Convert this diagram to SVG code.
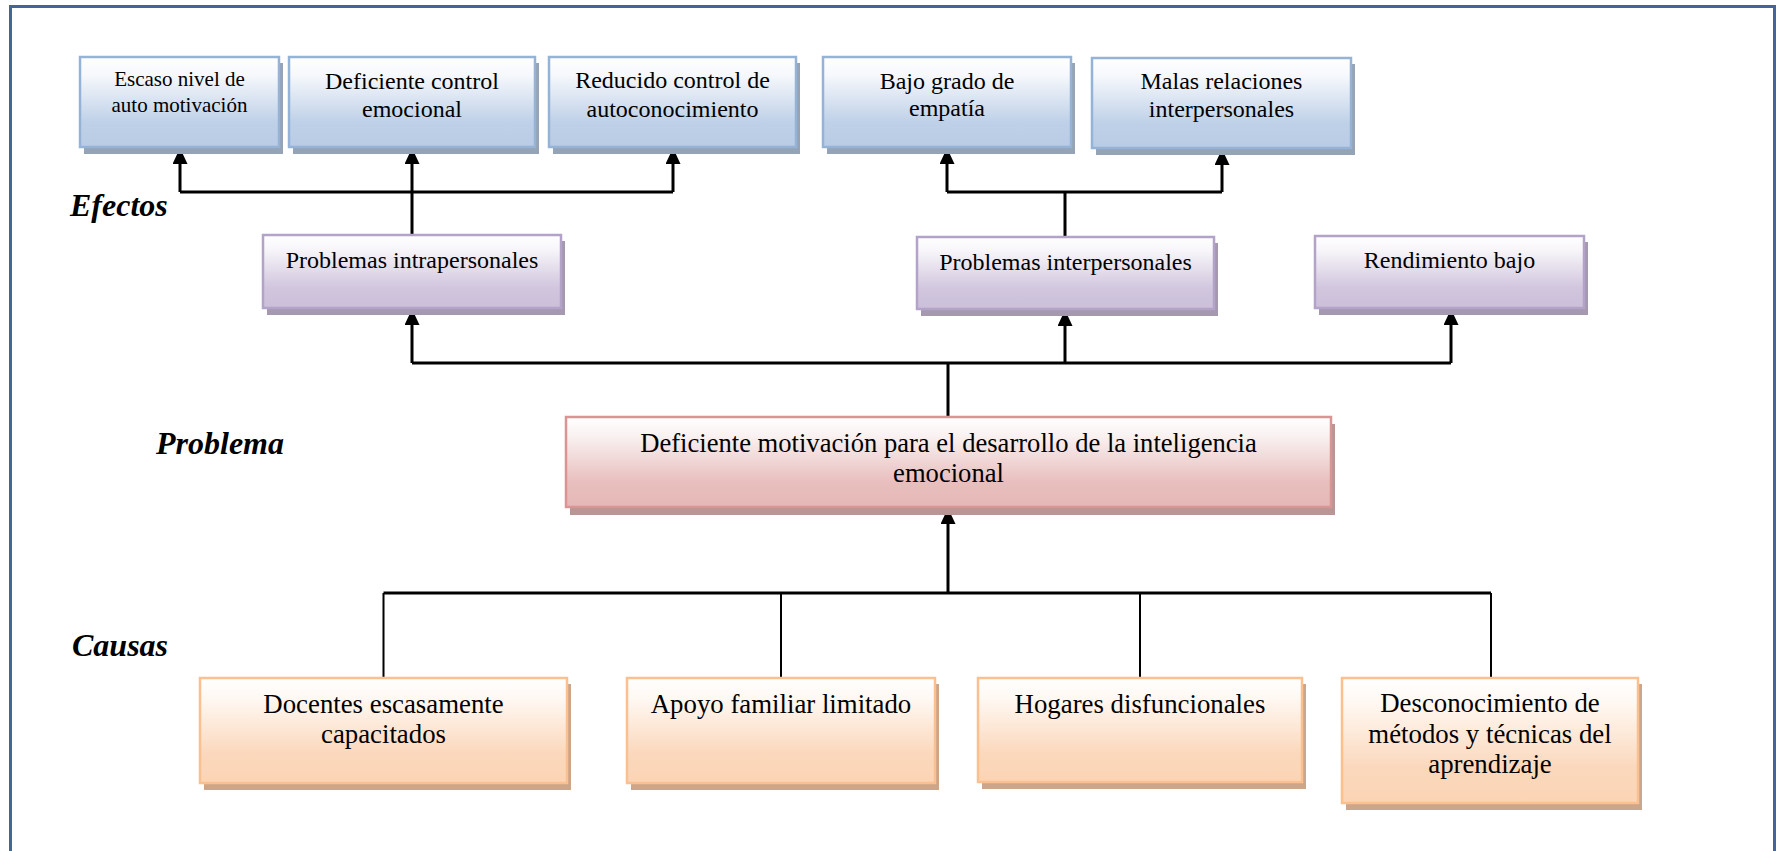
<svg xmlns="http://www.w3.org/2000/svg" width="1778" height="851" viewBox="0 0 1778 851">
<defs>
<linearGradient id="gBlue" x1="0" y1="0" x2="0" y2="1">
<stop offset="0" stop-color="#ffffff"/><stop offset="0.2" stop-color="#f6f8fc"/><stop offset="0.72" stop-color="#bfd1e8"/><stop offset="1" stop-color="#b9cce5"/>
</linearGradient>
<linearGradient id="gPurple" x1="0" y1="0" x2="0" y2="1">
<stop offset="0" stop-color="#ffffff"/><stop offset="0.2" stop-color="#f7f5f9"/><stop offset="0.72" stop-color="#d1c6de"/><stop offset="1" stop-color="#cbbfd9"/>
</linearGradient>
<linearGradient id="gPink" x1="0" y1="0" x2="0" y2="1">
<stop offset="0" stop-color="#ffffff"/><stop offset="0.2" stop-color="#faf2f2"/><stop offset="0.72" stop-color="#e8bfbe"/><stop offset="1" stop-color="#e5b8b7"/>
</linearGradient>
<linearGradient id="gOrange" x1="0" y1="0" x2="0" y2="1">
<stop offset="0" stop-color="#ffffff"/><stop offset="0.2" stop-color="#fff8f2"/><stop offset="0.72" stop-color="#fbd8bc"/><stop offset="1" stop-color="#fbd4b4"/>
</linearGradient>
<marker id="arr" markerUnits="userSpaceOnUse" markerWidth="16" markerHeight="16" refX="16" refY="7.5" orient="auto">
<path d="M0,0 L16,7.5 L0,15 z" fill="#000"/>
</marker>
<style>
text{font-family:'Liberation Serif','DejaVu Serif',serif;fill:#000;text-anchor:middle}
.lbl{font-weight:bold;font-style:italic;font-size:32px;text-anchor:start}
.t24{font-size:24px}
.t21{font-size:21px}
.t265{font-size:26.6px}
.t27{font-size:26.8px}
.blue{fill:url(#gBlue);stroke:#95b3d7;stroke-width:2.5}
.blueS{fill:#94a3b5}
.purple{fill:url(#gPurple);stroke:#b4a3c9;stroke-width:2.5}
.purpleS{fill:#a499ae}
.pink{fill:url(#gPink);stroke:#d99594;stroke-width:2.5}
.pinkS{fill:#b99596}
.orange{fill:url(#gOrange);stroke:#fac08f;stroke-width:2.5}
.orangeS{fill:#cba68b}
.c{fill:none;stroke:#000;stroke-width:3}
.c2{fill:none;stroke:#000;stroke-width:2}
</style>
</defs>
<rect x="0" y="0" width="1778" height="851" fill="#ffffff"/>
<rect id="frame" x="10.5" y="6.5" width="1764" height="870" fill="none" stroke="#3f6899" stroke-width="3"/>

<g font-family="Liberation Serif, DejaVu Serif, serif">
<text class="lbl" x="70" y="216">Efectos</text>
<text class="lbl" x="156" y="454">Problema</text>
<text class="lbl" x="72" y="656">Causas</text>
</g>

<g id="connectors">
<path class="c" d="M412,235 V192 M180,192 H673 M180,192 V148" marker-end="url(#arr)"/>
<path class="c" d="M412,192 V148" marker-end="url(#arr)"/>
<path class="c" d="M673,192 V148" marker-end="url(#arr)"/>
<path class="c" d="M1065,237 V192 M947,192 H1222 M947,192 V148" marker-end="url(#arr)"/>
<path class="c" d="M1222,192 V149" marker-end="url(#arr)"/>
<path class="c" d="M948,417 V363 M412,363 H1451 M412,363 V309" marker-end="url(#arr)"/>
<path class="c" d="M1065,363 V310" marker-end="url(#arr)"/>
<path class="c" d="M1451,363 V309" marker-end="url(#arr)"/>
<path class="c" d="M948,593 V508" marker-end="url(#arr)"/>
<path class="c" d="M383.5,593 H1491"/>
<path class="c2" d="M383.5,593 V678 M781,593 V678 M1140,593 V678 M1491,593 V678"/>
</g>

<g font-family="Liberation Serif, DejaVu Serif, serif">
<g id="e1">
<rect class="blueS" x="84" y="63" width="199" height="91"/>
<rect class="blue" x="80" y="57" width="199" height="90"/>
<text class="t21" x="179.5" y="86">Escaso nivel de</text>
<text class="t21" x="179.5" y="112">auto motivación</text>
</g>
<g id="e2">
<rect class="blueS" x="293" y="63" width="246" height="91"/>
<rect class="blue" x="289" y="57" width="246" height="90"/>
<text class="t24" x="412" y="89">Deficiente control</text>
<text class="t24" x="412" y="117">emocional</text>
</g>
<g id="e3">
<rect class="blueS" x="553" y="63" width="247" height="91"/>
<rect class="blue" x="549" y="57" width="247" height="90"/>
<text class="t24" x="672.5" y="88">Reducido control de</text>
<text class="t24" x="672.5" y="117">autoconocimiento</text>
</g>
<g id="e4">
<rect class="blueS" x="827" y="63" width="248" height="91"/>
<rect class="blue" x="823" y="57" width="248" height="90"/>
<text class="t24" x="947" y="89">Bajo grado de</text>
<text class="t24" x="947" y="116">empatía</text>
</g>
<g id="e5">
<rect class="blueS" x="1096" y="64" width="259" height="91"/>
<rect class="blue" x="1092" y="58" width="259" height="90"/>
<text class="t24" x="1221.5" y="89">Malas relaciones</text>
<text class="t24" x="1221.5" y="117">interpersonales</text>
</g>

<g id="p1">
<rect class="purpleS" x="267" y="241" width="298" height="74"/>
<rect class="purple" x="263" y="235" width="298" height="73"/>
<text class="t24" x="412" y="268">Problemas intrapersonales</text>
</g>
<g id="p2">
<rect class="purpleS" x="921" y="243" width="297" height="73"/>
<rect class="purple" x="917" y="237" width="297" height="72"/>
<text class="t24" x="1065.5" y="270">Problemas interpersonales</text>
</g>
<g id="p3">
<rect class="purpleS" x="1319" y="242" width="269" height="73"/>
<rect class="purple" x="1315" y="236" width="269" height="72"/>
<text class="t24" x="1449.5" y="268">Rendimiento bajo</text>
</g>

<g id="problem">
<rect class="pinkS" x="570" y="424" width="765" height="91"/>
<rect class="pink" x="566" y="417" width="765" height="90"/>
<text class="t265" x="948.5" y="452">Deficiente motivación para el desarrollo de la inteligencia</text>
<text class="t265" x="948.5" y="482">emocional</text>
</g>

<g id="c1">
<rect class="orangeS" x="204" y="684" width="367" height="106"/>
<rect class="orange" x="200" y="678" width="367" height="105"/>
<text class="t27" x="383.5" y="713">Docentes escasamente</text>
<text class="t27" x="383.5" y="743">capacitados</text>
</g>
<g id="c2">
<rect class="orangeS" x="631" y="684" width="308" height="106"/>
<rect class="orange" x="627" y="678" width="308" height="105"/>
<text class="t27" x="781" y="713">Apoyo familiar limitado</text>
</g>
<g id="c3">
<rect class="orangeS" x="982" y="684" width="324" height="105"/>
<rect class="orange" x="978" y="678" width="324" height="104"/>
<text class="t27" x="1140" y="713">Hogares disfuncionales</text>
</g>
<g id="c4">
<rect class="orangeS" x="1346" y="684" width="296" height="126"/>
<rect class="orange" x="1342" y="678" width="296" height="125"/>
<text class="t27" x="1490" y="712">Desconocimiento de</text>
<text class="t27" x="1490" y="743">métodos y técnicas del</text>
<text class="t27" x="1490" y="773">aprendizaje</text>
</g>
</g>
</svg>
